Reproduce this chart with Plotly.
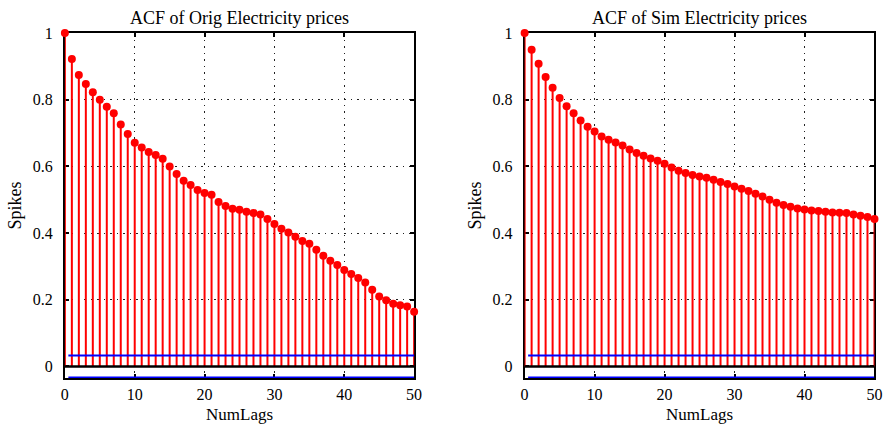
import plotly.graph_objects as go

lags = list(range(51))
acf_orig = [1.0, 0.922, 0.874, 0.847, 0.822, 0.800, 0.779, 0.759, 0.726, 0.697,
            0.671, 0.657, 0.643, 0.634, 0.623, 0.600, 0.577, 0.557, 0.544, 0.529,
            0.520, 0.515, 0.493, 0.481, 0.473, 0.470, 0.464, 0.460, 0.456, 0.442,
            0.427, 0.413, 0.402, 0.389, 0.376, 0.368, 0.350, 0.332, 0.317, 0.304,
            0.289, 0.277, 0.265, 0.252, 0.230, 0.210, 0.199, 0.188, 0.184, 0.180,
            0.164]
acf_sim = [1.0, 0.950, 0.908, 0.868, 0.836, 0.805, 0.780, 0.759, 0.738, 0.719,
           0.705, 0.690, 0.680, 0.672, 0.663, 0.651, 0.640, 0.632, 0.624, 0.617,
           0.608, 0.597, 0.587, 0.580, 0.574, 0.570, 0.566, 0.560, 0.553, 0.547,
           0.540, 0.533, 0.526, 0.518, 0.510, 0.500, 0.491, 0.484, 0.479, 0.474,
           0.471, 0.468, 0.466, 0.464, 0.462, 0.461, 0.460, 0.456, 0.452, 0.448,
           0.442]
conf_bound = 0.033
titles = ["ACF of Orig Electricity prices", "ACF of Sim Electricity prices"]
x_label = "NumLags"
y_label = "Spikes"

W, H = 895, 425
domains = [(61.7 / W, 415.7 / W), (527.7 / W, 882.3 / W)]
FONT = "Liberation Serif, Times New Roman, serif"

fig = go.Figure()
for i, (vals, title) in enumerate(zip([acf_orig, acf_sim], titles)):
    xa = "x" if i == 0 else "x2"
    ya = "y" if i == 0 else "y2"
    sx, sy = [], []
    for k, v in zip(lags, vals):
        sx += [k, k, None]
        sy += [0, v, None]
    # stems
    fig.add_trace(go.Scatter(x=sx, y=sy, mode="lines",
                             line=dict(color="#ff0000", width=2), xaxis=xa, yaxis=ya,
                             showlegend=False, hoverinfo="skip"))
    # baseline
    fig.add_trace(go.Scatter(x=[lags[0], lags[-1]], y=[0, 0], mode="lines",
                             line=dict(color="black", width=2.5), xaxis=xa, yaxis=ya,
                             showlegend=False, hoverinfo="skip"))
    # confidence bounds
    for b in (conf_bound, -conf_bound):
        fig.add_trace(go.Scatter(x=[0.5, lags[-1]], y=[b, b], mode="lines",
                                 line=dict(color="#0000ff", width=2), xaxis=xa, yaxis=ya,
                                 showlegend=False, hoverinfo="skip"))
    # stem heads
    fig.add_trace(go.Scatter(x=lags, y=vals, mode="markers",
                             marker=dict(color="#ff0000", size=8), xaxis=xa, yaxis=ya,
                             showlegend=False, cliponaxis=False))
    fig.add_annotation(text=title, xref=f"{xa} domain", yref=f"{ya} domain",
                       x=0.5, y=1, yanchor="bottom", yshift=3, showarrow=False,
                       font=dict(family=FONT, size=18, color="black"))
    fig.add_annotation(text=x_label, xref=f"{xa} domain", yref=f"{ya} domain",
                       x=0.5, y=0, yanchor="bottom", yshift=-47.5, showarrow=False,
                       font=dict(family=FONT, size=17, color="black"))

axis_common = dict(showline=True, linecolor="black", linewidth=2, mirror="ticks",
                   ticks="inside", ticklen=4, tickwidth=1.5, tickcolor="black",
                   showgrid=True, gridcolor="#222", griddash="1.5px,5px", gridwidth=1,
                   zeroline=False, layer="below traces",
                   tickfont=dict(family=FONT, size=16, color="black"))

for i in range(2):
    sfx = "" if i == 0 else "2"
    fig.update_layout(**{
        f"xaxis{sfx}": dict(domain=list(domains[i]), range=[0, 50], tickvals=[0, 10, 20, 30, 40, 50],
                            anchor=f"y{sfx}", ticklabelstandoff=1,
                            **axis_common),
        f"yaxis{sfx}": dict(domain=[0, 1], range=[-0.0345, 1.0], tickvals=[0, 0.2, 0.4, 0.6, 0.8, 1],
                            ticktext=["0", "0.2", "0.4", "0.6", "0.8", "1"],
                            anchor=f"x{sfx}", ticklabelstandoff=7,
                            title=dict(text=y_label, standoff=6,
                                       font=dict(family=FONT, size=18, color="black")),
                            **axis_common),
    })

fig.update_layout(width=W, height=H, margin=dict(l=0, r=0, t=33, b=47),
                  plot_bgcolor="white", paper_bgcolor="white")
fig.write_html("out.html")
